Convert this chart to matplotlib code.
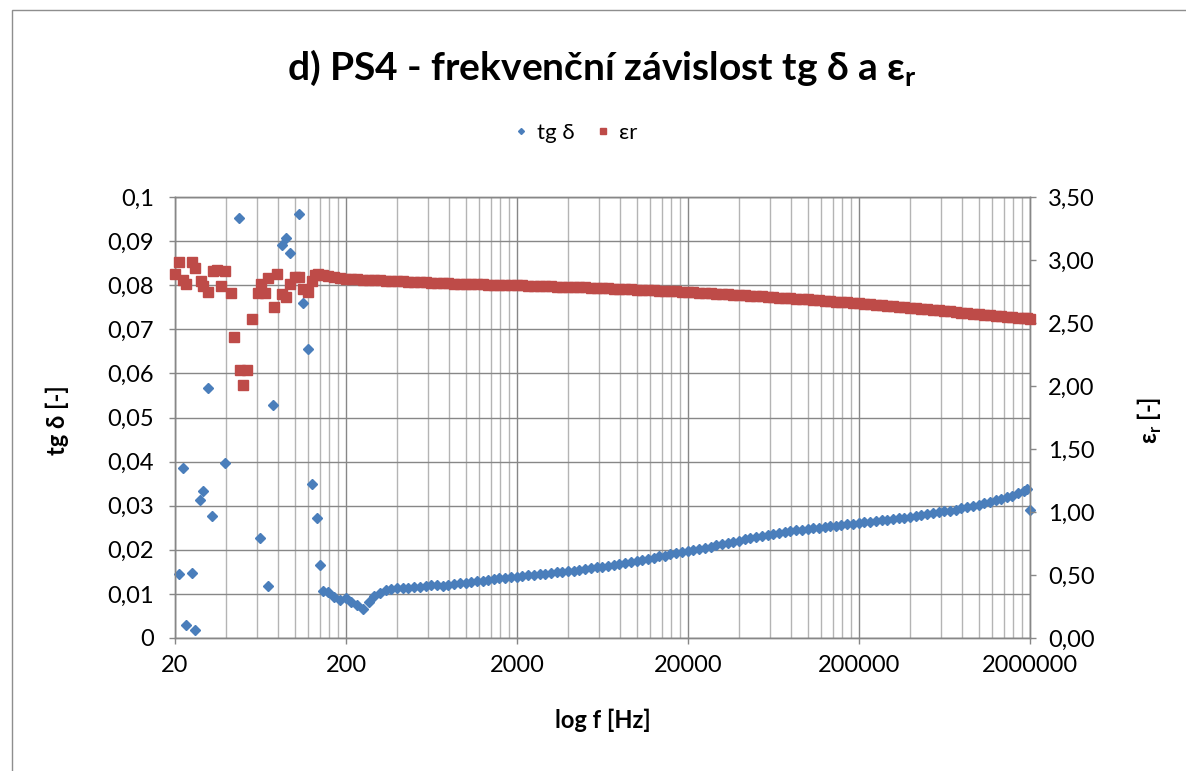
"""Frequency dependence of tg delta and relative permittivity for sample PS4."""

import matplotlib

matplotlib.use("Agg")
import matplotlib.pyplot as plt
from matplotlib.axes import Axes
from matplotlib.lines import Line2D
from matplotlib.patches import Rectangle
from matplotlib.ticker import FixedLocator, NullFormatter

plt.rcParams["font.family"] = ["Lato", "DejaVu Sans"]
plt.rcParams["mathtext.fontset"] = "custom"
plt.rcParams["mathtext.rm"] = "Lato"
plt.rcParams["mathtext.bf"] = "Lato:bold"

BLUE = "#4a7ebb"
RED = "#be4b48"
GRID_MAJOR = "#878787"
GRID_MINOR = "#b4b4b4"

# low-frequency part of the sweep (tg delta points outside 0..0.1 are left out)
f_tg_low = [21.2, 22.2, 23.1, 25.1, 26.1, 28.0, 29.0, 31.3, 33.0, 39.2, 47.3,
            62.8, 70.0, 75.1, 84.5, 89.2, 94.1, 106.7, 112.6, 119.9, 126.0,
            134.5, 140.9]
tg_low = [0.0145, 0.0385, 0.0029, 0.0148, 0.0018, 0.0313, 0.0334, 0.0568,
          0.0277, 0.0396, 0.0952, 0.0227, 0.0119, 0.0528, 0.0891, 0.0906,
          0.0872, 0.0961, 0.0759, 0.0655, 0.0349, 0.0271, 0.0166]

f_er_low = [20.0, 21.1, 22.2, 23.2, 25.0, 26.2, 28.3, 29.3, 31.3, 33.2,
            35.4, 37.0, 39.2, 42.3, 44.4, 48.0, 50.2, 53.0, 56.2, 61.2,
            63.7, 67.2, 70.0, 75.9, 78.6, 84.1, 89.2, 94.1, 100.6, 106.7,
            112.6, 120.4, 126.0, 131.8, 137.7]
er_low = [2.885, 2.988, 2.845, 2.811, 2.983, 2.935, 2.837, 2.790, 2.750, 2.911,
          2.917, 2.790, 2.909, 2.736, 2.387, 2.129, 2.010, 2.129, 2.530, 2.738,
          2.811, 2.738, 2.861, 2.625, 2.890, 2.732, 2.705, 2.811, 2.863, 2.863,
          2.771, 2.744, 2.837, 2.877, 2.885]

# rest of the sweep, both quantities at the same frequencies
f_sweep = [
    147, 158, 171, 185, 200, 215, 232, 251, 271, 293, 316, 341, 369, 398,
    430, 464, 501, 541, 584, 631, 681, 736, 794, 858, 926,
    1000, 1080, 1170, 1260, 1360, 1470, 1580, 1710, 1850, 2000, 2150, 2320,
    2510, 2710, 2930, 3160, 3410, 3690, 3980, 4300, 4640, 5010, 5410, 5840,
    6310, 6810, 7360, 7940, 8580, 9260,
    10000, 10800, 11700, 12600, 13600, 14700, 15800, 17100, 18500, 20000,
    21500, 23200, 25100, 27100, 29300, 31600, 34100, 36900, 39800, 43000,
    46400, 50100, 54100, 58400, 63100, 68100, 73600, 79400, 85800, 92600,
    100000, 108000, 117000, 126000, 136000, 147000, 158000, 171000, 185000,
    200000, 215000, 232000, 251000, 271000, 293000, 316000, 341000, 369000,
    398000, 430000, 464000, 501000, 541000, 584000, 631000, 681000, 736000,
    794000, 858000, 926000,
    1000000, 1080000, 1170000, 1260000, 1360000, 1470000, 1580000, 1710000,
    1850000, 1920000, 2000000,
]
tg_sweep = [
    0.0106, 0.0104, 0.0094, 0.0087, 0.0090, 0.0082, 0.0074, 0.0066, 0.0082,
    0.0096, 0.0102, 0.0108, 0.0111, 0.0113, 0.0114, 0.0114, 0.0115, 0.0116,
    0.0118, 0.0120, 0.0121, 0.0117, 0.0120, 0.0122, 0.0124,
    0.0125, 0.0127, 0.0129, 0.0130, 0.0132, 0.0133, 0.0135, 0.0136, 0.0138,
    0.0139, 0.0140, 0.0142, 0.0143, 0.0145, 0.0146, 0.0147, 0.0149, 0.0150,
    0.0152, 0.0153, 0.0155, 0.0156, 0.0158, 0.0160, 0.0162, 0.0164, 0.0166,
    0.0168, 0.0170, 0.0173,
    0.0175, 0.0177, 0.0180, 0.0182, 0.0185, 0.0187, 0.0190, 0.0192, 0.0194,
    0.0197, 0.0199, 0.0202, 0.0205, 0.0207, 0.0210, 0.0213, 0.0216, 0.0218,
    0.0221, 0.0224, 0.0226, 0.0229, 0.0231, 0.0234, 0.0236, 0.0238, 0.0240,
    0.0242, 0.0244, 0.0245,
    0.0247, 0.0249, 0.0250, 0.0252, 0.0253, 0.0255, 0.0256, 0.0258, 0.0259,
    0.0261, 0.0262, 0.0264, 0.0265, 0.0267, 0.0268, 0.0270, 0.0272, 0.0273,
    0.0275, 0.0277, 0.0279, 0.0281, 0.0283, 0.0285, 0.0287, 0.0289, 0.0291,
    0.0294, 0.0296, 0.0299,
    0.0302, 0.0305, 0.0308, 0.0312, 0.0315, 0.0319, 0.0323, 0.0328, 0.0333,
    0.0337, 0.0290,
]
er_sweep = [
    2.878, 2.872, 2.865, 2.858, 2.853, 2.850, 2.847, 2.845, 2.843, 2.841,
    2.839, 2.837, 2.835, 2.833, 2.831, 2.829, 2.827, 2.825, 2.823, 2.821,
    2.819, 2.817, 2.815, 2.813, 2.811,
    2.810, 2.808, 2.807, 2.806, 2.805, 2.804, 2.803, 2.802, 2.801, 2.800,
    2.798, 2.797, 2.795, 2.794, 2.792, 2.791, 2.789, 2.788, 2.786, 2.785,
    2.783, 2.782, 2.780, 2.778, 2.777, 2.775, 2.773, 2.771, 2.769, 2.767,
    2.765, 2.763, 2.761, 2.759, 2.757, 2.755, 2.753, 2.751, 2.749, 2.747,
    2.744, 2.742, 2.739, 2.737, 2.734, 2.731, 2.728, 2.726, 2.723, 2.720,
    2.717, 2.714, 2.711, 2.708, 2.705, 2.702, 2.699, 2.696, 2.693, 2.690,
    2.687, 2.684, 2.681, 2.677, 2.674, 2.670, 2.667, 2.663, 2.659, 2.655,
    2.652, 2.648, 2.644, 2.640, 2.636, 2.632, 2.628, 2.624, 2.620, 2.616,
    2.612, 2.608, 2.604, 2.600, 2.596, 2.592, 2.587, 2.583, 2.579, 2.575,
    2.571, 2.567, 2.563, 2.558, 2.554, 2.550, 2.546, 2.542, 2.538, 2.536,
    2.534,
]

x_ticks = [20, 200, 2000, 20000, 200000, 2000000]
x_labels = ["20", "200", "2000", "20000", "200000", "2000000"]
tg_ticks = [0, 0.01, 0.02, 0.03, 0.04, 0.05, 0.06, 0.07, 0.08, 0.09, 0.1]
tg_labels = ["0", "0,01", "0,02", "0,03", "0,04", "0,05", "0,06", "0,07",
             "0,08", "0,09", "0,1"]
er_ticks = [0, 0.5, 1.0, 1.5, 2.0, 2.5, 3.0, 3.5]
er_labels = ["0,00", "0,50", "1,00", "1,50", "2,00", "2,50", "3,00", "3,50"]

W, H = 1186, 771
TICK_SIZE = 17
LABEL_SIZE = 17


def style_axis(ax: Axes) -> None:
    """Grey frame and outward ticks in the spreadsheet look."""
    for spine in ax.spines.values():
        spine.set_color(GRID_MAJOR)
        spine.set_linewidth(1.0)
    ax.tick_params(which="major", direction="out", length=4, width=1.0,
                   color=GRID_MAJOR, labelsize=TICK_SIZE, labelcolor="black")
    ax.tick_params(which="minor", length=0)


fig = plt.figure(figsize=(W / 100, H / 100), dpi=100)

# chart border
fig.patches.append(Rectangle((12 / W, -0.1), 1.2, 1.1 - 10 / H,
                             transform=fig.transFigure, fill=False,
                             ec="#8e8e8e", lw=1.0))

ax = fig.add_axes([175 / W, 1 - 638 / H, 855 / W, 441 / H])
ax.set_xscale("log")
ax.set_xlim(20, 2000000)
ax.set_ylim(0, 0.1)

ax.xaxis.set_major_locator(FixedLocator(x_ticks))
ax.set_xticklabels(x_labels)
minor = [m * 2 * 10 ** k for k in range(1, 6) for m in range(2, 10)]
ax.xaxis.set_minor_locator(FixedLocator(minor))
ax.xaxis.set_minor_formatter(NullFormatter())
ax.set_yticks(tg_ticks)
ax.set_yticklabels(tg_labels)
style_axis(ax)
ax.tick_params(axis="y", pad=11)
ax.tick_params(axis="x", which="major", pad=8)

ax.grid(which="major", color=GRID_MAJOR, lw=1.0)
ax.grid(which="minor", axis="x", color=GRID_MINOR, lw=1.0)
ax.set_axisbelow(True)

ax.plot(f_tg_low + f_sweep, tg_low + tg_sweep, ls="none", marker="D",
        ms=4.7, color=BLUE, mec=BLUE, clip_on=False, zorder=3)

ax2 = ax.twinx()
ax2.set_ylim(0, 3.5)
ax2.set_yticks(er_ticks)
ax2.set_yticklabels(er_labels)
style_axis(ax2)
ax2.tick_params(axis="y", pad=9)
ax2.plot(f_er_low + f_sweep, er_low + er_sweep, ls="none", marker="s",
         ms=7, color=RED, mec=RED, clip_on=False, zorder=3)

fig.text(602 / W, 1 - 68 / H, r"d) PS4 - frekvenční závislost tg δ a ε$_\mathbf{r}$",
         ha="center", va="center", fontsize=28, fontweight="bold")

handles = [
    Line2D([], [], ls="none", marker="D", ms=3, color=BLUE, label="tg δ"),
    Line2D([], [], ls="none", marker="s", ms=5, color=RED, label="εr"),
]
fig.legend(handles=handles, loc="center", bbox_to_anchor=(576 / W, 1 - 133 / H),
           ncol=2, frameon=False, fontsize=16, handlelength=0.6,
           handletextpad=0.4, columnspacing=1.0)

fig.text(57 / W, 1 - 420 / H, "tg δ [-]", rotation=90, ha="center",
         va="center", fontsize=LABEL_SIZE, fontweight="bold")
fig.text(1150 / W, 1 - 420 / H, r"ε$_\mathbf{r}$ [-]", rotation=90,
         ha="center", va="center", fontsize=LABEL_SIZE, fontweight="bold")
fig.text(603 / W, 1 - 720 / H, "log f [Hz]", ha="center", va="center",
         fontsize=LABEL_SIZE, fontweight="bold")

fig.savefig("out.png", dpi=100)
